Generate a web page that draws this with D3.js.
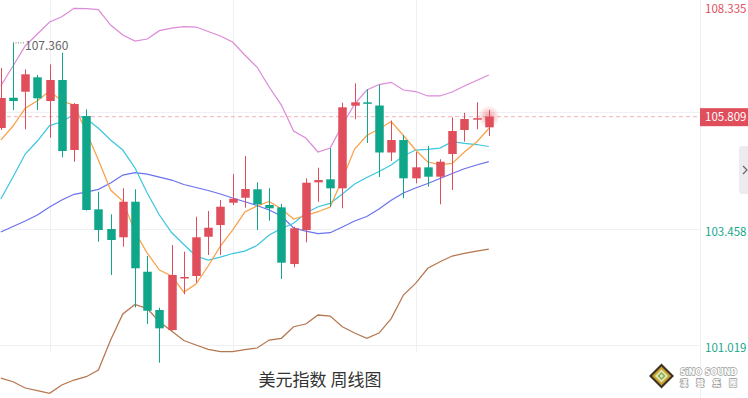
<!DOCTYPE html>
<html><head><meta charset="utf-8">
<script src="https://cdn.jsdelivr.net/npm/d3@7"></script>
<style>html,body{margin:0;padding:0;background:#fff;}svg{display:block;}</style>
</head><body><svg id="c" width="748" height="398"></svg>
<script>
// ---- data (weekly candles, US Dollar Index) ----
const opens=[105.571,106.208,106.334,106.637,106.138,106.580,105.108,105.823,103.861,103.447,103.273,104.021,102.549,101.744,101.323,102.417,102.459,103.285,103.531,104.000,104.105,104.282,103.952,103.903,102.711,103.426,104.429,104.492,104.303,106.040,106.111,106.044,105.056,105.318,104.513,104.744,104.547,105.024,105.529,105.764,105.585];
const closes=[106.202,106.138,106.700,106.195,106.580,105.087,106.075,103.847,103.426,103.216,104.021,102.621,101.729,101.359,102.480,102.438,103.273,103.474,103.916,104.084,104.288,103.966,103.882,102.739,103.462,104.421,104.477,104.303,106.006,106.111,106.082,105.056,105.318,104.513,104.744,104.547,104.862,105.508,105.760,105.777,105.809];
const highs=[106.832,107.360,106.805,106.685,106.910,107.154,106.096,105.964,104.231,103.756,104.303,104.282,102.879,101.792,103.111,102.970,103.706,103.826,104.057,104.604,104.982,104.429,104.303,103.973,103.495,104.513,104.736,105.144,106.103,106.511,106.384,106.481,105.728,105.424,105.066,105.192,104.913,105.796,105.892,106.111,105.949];
const lows=[105.529,105.949,105.543,105.949,105.367,104.955,104.862,103.836,103.180,102.480,103.075,101.797,101.450,100.636,101.313,102.074,102.318,102.900,102.900,103.952,103.895,103.426,103.622,102.396,102.642,103.167,104.021,103.916,103.882,105.754,105.255,104.540,104.877,104.093,104.408,104.336,103.966,104.267,105.283,105.543,105.403];
const bollUpper=[106.454,106.874,107.295,107.547,107.799,107.911,108.087,108.083,108.062,107.736,107.526,107.400,107.442,107.617,107.673,107.705,107.694,107.600,107.505,107.379,107.106,106.853,106.433,106.054,105.508,105.360,105.066,105.150,105.634,106.075,106.370,106.485,106.532,106.370,106.338,106.244,106.244,106.328,106.454,106.569,106.685];
const ma5=[105.318,105.613,105.985,106.145,106.349,106.138,106.054,105.493,104.898,104.267,104.036,103.384,102.942,102.585,102.459,102.122,102.291,102.669,103.090,103.426,103.804,103.931,104.025,103.868,103.657,103.731,103.811,103.910,104.498,105.129,105.413,105.550,105.707,105.413,105.108,104.856,104.803,104.828,105.066,105.276,105.560];
const ma10=[104.078,104.540,105.024,105.297,105.623,105.703,105.855,105.770,105.564,105.318,105.108,104.730,104.204,103.741,103.373,103.121,102.879,102.795,102.858,102.932,102.984,103.100,103.321,103.458,103.567,103.783,103.916,103.987,104.183,104.393,104.530,104.656,104.793,104.982,105.108,105.123,105.150,105.283,105.249,105.224,105.182];
const ma20=[103.384,103.500,103.615,103.741,103.910,104.057,104.177,104.225,104.282,104.414,104.582,104.631,104.603,104.540,104.477,104.383,104.320,104.257,104.183,104.099,104.021,103.941,103.847,103.720,103.468,103.405,103.352,103.369,103.489,103.615,103.710,103.868,104.051,104.204,104.309,104.404,104.509,104.614,104.715,104.793,104.862];
const bollLower=[100.314,100.236,100.104,100.047,99.992,100.167,100.272,100.342,100.482,101.113,101.660,101.860,101.775,101.498,101.302,101.103,101.008,100.918,100.867,100.867,100.913,100.945,101.113,101.149,101.393,101.450,101.639,101.618,101.393,101.260,101.149,101.260,101.565,102.059,102.305,102.621,102.759,102.879,102.936,102.984,103.026];
const tickValues=[101.019,103.458,105.897,108.336];
const tickLabels=["101.019","103.458","105.897","108.335"];
const lastPrice=105.809;
const highLabel="107.360";
const gridIdx=[4,19,34];
const title="美元指数 周线图";

const svg=d3.select("#c");
const plotRight=700;
const x=d3.scaleLinear().domain([0,40]).range([0.8,488.8]);
const y=d3.scaleLinear().domain([101.019,103.458]).range([344.5,228.5]);
const RED="#e04e5b",GREEN="#0fa68a";
const AXF="Noto Sans CJK SC, Noto Sans, sans-serif";

const defs=svg.append("defs");
const rg=defs.append("radialGradient").attr("id","glow");
rg.append("stop").attr("offset","0%").attr("stop-color","#e04e5b").attr("stop-opacity",0.55);
rg.append("stop").attr("offset","100%").attr("stop-color","#e04e5b").attr("stop-opacity",0);

// grid
svg.append("g").selectAll("line").data(tickValues).join("line")
 .attr("x1",0).attr("x2",plotRight).attr("y1",d=>Math.round(y(d))+0.5).attr("y2",d=>Math.round(y(d))+0.5)
 .attr("stroke","#eef0f4").attr("stroke-width",1);
svg.append("g").selectAll("line").data(gridIdx).join("line")
 .attr("x1",d=>Math.round(x(d))+0.5).attr("x2",d=>Math.round(x(d))+0.5).attr("y1",0).attr("y2",352)
 .attr("stroke","#eef0f4").attr("stroke-width",1);
svg.append("line").attr("x1",plotRight+0.5).attr("x2",plotRight+0.5).attr("y1",0).attr("y2",398).attr("stroke","#eceef2");

// indicator lines
const lineGen=d3.line().x((d,i)=>x(i)).y(d=>y(d));
const series=[[bollUpper,"#dc8bd8"],[bollLower,"#b5774f"],[ma20,"#6a72ef"],[ma10,"#3ec6e0"],[ma5,"#f8a24a"]];
svg.append("g").selectAll("path").data(series).join("path")
 .attr("d",d=>lineGen(d[0])).attr("fill","none").attr("stroke",d=>d[1]).attr("stroke-width",1.25);

// current price dashed line
svg.append("line").attr("x1",0).attr("x2",plotRight).attr("y1",y(lastPrice)).attr("y2",y(lastPrice))
 .attr("stroke","#f2b3bb").attr("stroke-width",1).attr("stroke-dasharray","4,3");

svg.append("circle").attr("cx",x(40)).attr("cy",y(lastPrice)).attr("r",11).attr("fill","url(#glow)");

// candles
const idx=d3.range(opens.length);
const cg=svg.append("g");
const col=i=>closes[i]>=opens[i]?RED:GREEN;
cg.selectAll("line").data(idx).join("line")
 .attr("x1",i=>Math.round(x(i))+0.5).attr("x2",i=>Math.round(x(i))+0.5)
 .attr("y1",i=>y(highs[i])).attr("y2",i=>y(lows[i])).attr("stroke",col).attr("stroke-width",1);
cg.selectAll("rect").data(idx).join("rect")
 .attr("x",i=>Math.round(x(i))+0.5-4.25).attr("width",8.5)
 .attr("y",i=>y(Math.max(opens[i],closes[i])))
 .attr("height",i=>Math.max(1.5,Math.abs(y(opens[i])-y(closes[i]))))
 .attr("fill",col);

// high label
const hi=1;
svg.append("line").attr("x1",x(hi)).attr("x2",x(hi)+11).attr("y1",y(highs[hi])).attr("y2",y(highs[hi]))
 .attr("stroke","#777").attr("stroke-width",1).attr("stroke-dasharray","1,1.5");
svg.append("text").attr("x",x(hi)+12).attr("y",y(highs[hi])+3).attr("dy","0.32em")
 .attr("font-family",AXF).attr("font-size",12).attr("fill","#666").text(highLabel);

// axis labels
svg.append("g").selectAll("text").data(tickValues).join("text")
 .attr("x",705).attr("y",d=>Math.max(8.5,y(d)+3.5)).attr("dy","0.35em")
 .attr("font-family",AXF).attr("font-size",11.5)
 .attr("fill",d=>d>lastPrice?"#e0505c":"#17a689").text((d,i)=>tickLabels[i]);

// last price label
svg.append("rect").attr("x",plotRight).attr("y",y(lastPrice)-8.5).attr("width",48).attr("height",18).attr("fill","#e04e5b");
svg.append("text").attr("x",705).attr("y",y(lastPrice)+0.5).attr("dy","0.35em")
 .attr("font-family",AXF).attr("font-size",11.5).attr("fill","#fff").text(lastPrice.toFixed(3));

// side tab
svg.append("rect").attr("x",739).attr("y",146).attr("width",14).attr("height",48).attr("rx",3).attr("fill","#ececf0");
svg.append("path").attr("d","M743,166 L747,170 L743,174").attr("fill","none").attr("stroke","#666").attr("stroke-width",1.2);

// title
svg.append("text").attr("x",320).attr("y",380).attr("dy","0.35em").attr("text-anchor","middle")
 .attr("font-family","Noto Sans CJK SC, sans-serif").attr("font-size",17).attr("fill","#333").text(title);

// logo
const lg=svg.append("g").attr("transform","translate(661.5,376)");
lg.append("path").attr("d","M0,-12.5 L12.5,0 L0,12.5 L-12.5,0Z").attr("fill","#3b3128");
lg.append("path").attr("d","M0,-9.5 L9.5,0 L0,9.5 L-9.5,0Z").attr("fill","#c9a52a");
lg.append("path").attr("d","M0,-6.5 L6.5,0 L0,6.5 L-6.5,0Z").attr("fill","#e9e2c0");
lg.append("path").attr("d","M0,-4 L4,0 L0,4 L-4,0Z").attr("fill","#7ab648");
lg.append("path").attr("d","M0,-2 L2,0 L0,2 L-2,0Z").attr("fill","#e9e2c0");
svg.append("text").attr("x",680).attr("y",375).attr("font-family","DejaVu Sans, sans-serif").attr("font-weight","bold")
 .attr("font-size",9.5).attr("textLength",57).attr("lengthAdjust","spacingAndGlyphs")
 .attr("fill","#fff").attr("stroke","#9a9a9a").attr("stroke-width",1.3).attr("paint-order","stroke").text("SiNO SOUND");
svg.append("text").attr("x",680).attr("y",385.5).attr("font-family","Noto Sans CJK TC, sans-serif").attr("font-weight","bold")
 .attr("font-size",8).attr("textLength",57).attr("fill","#fff").attr("stroke","#9a9a9a").attr("stroke-width",1.3).attr("paint-order","stroke").text("漢聲集團");
</script></body></html>
